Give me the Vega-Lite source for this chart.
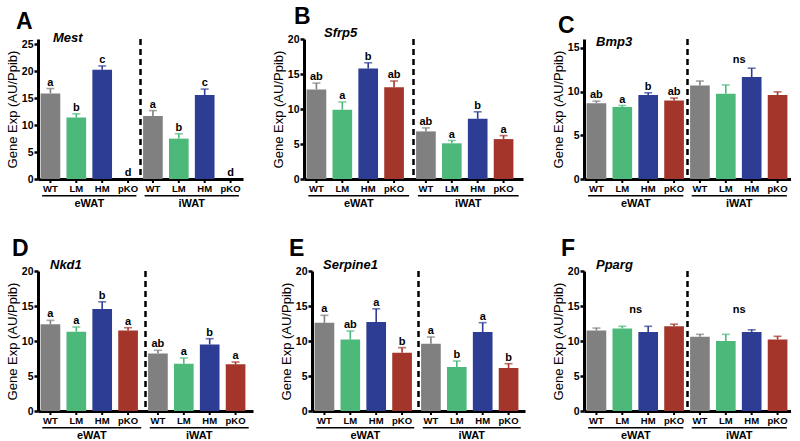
{
  "$schema": "https://vega.github.io/schema/vega-lite/v6.json",
  "padding": {"left": 6, "top": 6, "right": 0, "bottom": 0},
  "background": "white",
  "spacing": 30,
  "config": {
    "view": {"stroke": null},
    "font": "Liberation Sans",
    "axis": {"domainColor": "black", "tickColor": "black", "labelColor": "black", "titleColor": "black", "labelFont": "Liberation Sans", "titleFont": "Liberation Sans", "grid": false},
    "axisY": {"domainWidth": 3, "tickWidth": 2.5, "tickSize": 4, "labelFontSize": 10.5, "labelFontWeight": "bold", "labelPadding": 1, "labelOverlap": false, "titleFontSize": 13, "titleFontWeight": "normal", "titlePadding": 2},
    "axisX": {"domainWidth": 3, "ticks": false, "labelFontSize": 11, "labelFontWeight": "bold", "labelPadding": 18, "labelAngle": 0},
    "title": {"anchor": "start", "frame": "group", "fontSize": 23, "fontWeight": "bold", "font": "Liberation Sans", "color": "black", "offset": -2, "baseline": "alphabetic"},
    "text": {"font": "Liberation Sans", "color": "black"}
  },
  "datasets": {
    "A": [
      {"tissue": "eWAT", "geno": "WT", "mean": 15.9, "hi": 16.8, "label": "a"},
      {"tissue": "eWAT", "geno": "LM", "mean": 11.4, "hi": 12.1, "label": "b"},
      {"tissue": "eWAT", "geno": "HM", "mean": 20.3, "hi": 21.0, "label": "c"},
      {"tissue": "eWAT", "geno": "pKO", "mean": 0, "hi": 0, "label": "d"},
      {"tissue": "iWAT", "geno": "WT", "mean": 11.7, "hi": 12.7, "label": "a"},
      {"tissue": "iWAT", "geno": "LM", "mean": 7.5, "hi": 8.4, "label": "b"},
      {"tissue": "iWAT", "geno": "HM", "mean": 15.6, "hi": 16.7, "label": "c"},
      {"tissue": "iWAT", "geno": "pKO", "mean": 0, "hi": 0, "label": "d"}
    ],
    "B": [
      {"tissue": "eWAT", "geno": "WT", "mean": 12.8, "hi": 13.7, "label": "ab"},
      {"tissue": "eWAT", "geno": "LM", "mean": 9.9, "hi": 11.0, "label": "a"},
      {"tissue": "eWAT", "geno": "HM", "mean": 15.8, "hi": 16.6, "label": "b"},
      {"tissue": "eWAT", "geno": "pKO", "mean": 13.1, "hi": 14.0, "label": "ab"},
      {"tissue": "iWAT", "geno": "WT", "mean": 6.8, "hi": 7.3, "label": "ab"},
      {"tissue": "iWAT", "geno": "LM", "mean": 5.1, "hi": 5.5, "label": "a"},
      {"tissue": "iWAT", "geno": "HM", "mean": 8.6, "hi": 9.6, "label": "b"},
      {"tissue": "iWAT", "geno": "pKO", "mean": 5.7, "hi": 6.2, "label": "a"}
    ],
    "C": [
      {"tissue": "eWAT", "geno": "WT", "mean": 8.67, "hi": 8.9, "label": "ab"},
      {"tissue": "eWAT", "geno": "LM", "mean": 8.24, "hi": 8.4, "label": "a"},
      {"tissue": "eWAT", "geno": "HM", "mean": 9.6, "hi": 9.85, "label": "b"},
      {"tissue": "eWAT", "geno": "pKO", "mean": 8.96, "hi": 9.25, "label": "ab"},
      {"tissue": "iWAT", "geno": "WT", "mean": 10.7, "hi": 11.2, "label": ""},
      {"tissue": "iWAT", "geno": "LM", "mean": 9.75, "hi": 10.75, "label": ""},
      {"tissue": "iWAT", "geno": "HM", "mean": 11.65, "hi": 12.66, "label": ""},
      {"tissue": "iWAT", "geno": "pKO", "mean": 9.6, "hi": 9.96, "label": ""}
    ],
    "D": [
      {"tissue": "eWAT", "geno": "WT", "mean": 12.4, "hi": 12.95, "label": "a"},
      {"tissue": "eWAT", "geno": "LM", "mean": 11.33, "hi": 12.0, "label": "a"},
      {"tissue": "eWAT", "geno": "HM", "mean": 14.57, "hi": 15.6, "label": "b"},
      {"tissue": "eWAT", "geno": "pKO", "mean": 11.5, "hi": 11.9, "label": "a"},
      {"tissue": "iWAT", "geno": "WT", "mean": 8.2, "hi": 8.67, "label": "ab"},
      {"tissue": "iWAT", "geno": "LM", "mean": 6.76, "hi": 7.57, "label": "a"},
      {"tissue": "iWAT", "geno": "HM", "mean": 9.5, "hi": 10.33, "label": "b"},
      {"tissue": "iWAT", "geno": "pKO", "mean": 6.67, "hi": 7.0, "label": "a"}
    ],
    "E": [
      {"tissue": "eWAT", "geno": "WT", "mean": 12.6, "hi": 13.67, "label": "a"},
      {"tissue": "eWAT", "geno": "LM", "mean": 10.2, "hi": 11.43, "label": "ab"},
      {"tissue": "eWAT", "geno": "HM", "mean": 12.7, "hi": 14.6, "label": "a"},
      {"tissue": "eWAT", "geno": "pKO", "mean": 8.33, "hi": 9.05, "label": "b"},
      {"tissue": "iWAT", "geno": "WT", "mean": 9.62, "hi": 10.57, "label": "a"},
      {"tissue": "iWAT", "geno": "LM", "mean": 6.29, "hi": 7.14, "label": "b"},
      {"tissue": "iWAT", "geno": "HM", "mean": 11.29, "hi": 12.62, "label": "a"},
      {"tissue": "iWAT", "geno": "pKO", "mean": 6.14, "hi": 6.76, "label": "b"}
    ],
    "F": [
      {"tissue": "eWAT", "geno": "WT", "mean": 11.5, "hi": 11.85, "label": ""},
      {"tissue": "eWAT", "geno": "LM", "mean": 11.8, "hi": 12.1, "label": ""},
      {"tissue": "eWAT", "geno": "HM", "mean": 11.3, "hi": 12.1, "label": ""},
      {"tissue": "eWAT", "geno": "pKO", "mean": 12.1, "hi": 12.4, "label": ""},
      {"tissue": "iWAT", "geno": "WT", "mean": 10.6, "hi": 10.95, "label": ""},
      {"tissue": "iWAT", "geno": "LM", "mean": 10.0, "hi": 10.95, "label": ""},
      {"tissue": "iWAT", "geno": "HM", "mean": 11.3, "hi": 11.6, "label": ""},
      {"tissue": "iWAT", "geno": "pKO", "mean": 10.2, "hi": 10.67, "label": ""}
    ]
  },
  "vconcat": [
    {"spacing": 29, "hconcat": [
      {
        "width": 205, "height": 140,
        "title": {"text": "A", "dx": -22},
        "data": {"name": "A"},
        "layer": [
          {"mark": {"type": "bar"}, "encoding": {
            "x": {"field": "tissue", "type": "nominal", "scale": {"paddingInner": 0, "paddingOuter": 0}, "axis": {"title": null}},
            "xOffset": {"field": "geno", "type": "nominal", "scale": {"domain": ["WT", "LM", "HM", "pKO"], "paddingInner": 0.24, "paddingOuter": 0.1}},
            "y": {"field": "mean", "type": "quantitative", "scale": {"domain": [0, 25]}, "axis": {"title": "Gene Exp (AU/Ppib)", "values": [0, 5, 10, 15, 20, 25]}},
            "color": {"field": "geno", "type": "nominal", "scale": {"domain": ["WT", "LM", "HM", "pKO"], "range": ["#808080", "#4cb97b", "#2e3d94", "#a3352a"]}, "legend": null}}},
          {"transform": [{"filter": "datum.mean > 0"}], "mark": {"type": "rule", "strokeWidth": 1.6}, "encoding": {
            "x": {"field": "tissue", "type": "nominal", "axis": {"title": null}}, "xOffset": {"field": "geno", "type": "nominal"},
            "y": {"field": "mean", "type": "quantitative", "axis": {"title": "Gene Exp (AU/Ppib)", "values": [0, 5, 10, 15, 20, 25]}}, "y2": {"field": "hi"}, "color": {"field": "geno", "type": "nominal", "legend": null}}},
          {"transform": [{"filter": "datum.mean > 0"}], "mark": {"type": "tick", "size": 8, "thickness": 1.6}, "encoding": {
            "x": {"field": "tissue", "type": "nominal", "axis": {"title": null}}, "xOffset": {"field": "geno", "type": "nominal"},
            "y": {"field": "hi", "type": "quantitative", "axis": {"title": "Gene Exp (AU/Ppib)", "values": [0, 5, 10, 15, 20, 25]}}, "color": {"field": "geno", "type": "nominal", "legend": null}}},
          {"mark": {"type": "text", "baseline": "alphabetic", "dy": -3, "fontWeight": "bold", "fontSize": 11}, "encoding": {
            "x": {"field": "tissue", "type": "nominal", "axis": {"title": null}}, "xOffset": {"field": "geno", "type": "nominal"},
            "y": {"field": "hi", "type": "quantitative", "axis": {"title": "Gene Exp (AU/Ppib)", "values": [0, 5, 10, 15, 20, 25]}}, "text": {"field": "label"}}},
          {"mark": {"type": "text", "baseline": "middle", "dy": 10, "fontWeight": "bold", "fontSize": 9.5}, "encoding": {
            "x": {"field": "tissue", "type": "nominal", "axis": {"title": null}}, "xOffset": {"field": "geno", "type": "nominal"},
            "y": {"datum": 0, "axis": {"title": "Gene Exp (AU/Ppib)", "values": [0, 5, 10, 15, 20, 25]}}, "text": {"field": "geno"}}},
          {"mark": {"type": "rule", "y2Offset": 4, "strokeWidth": 2, "color": "black"}, "encoding": {
            "x": {"field": "tissue", "type": "nominal", "axis": {"title": null}}, "xOffset": {"field": "geno", "type": "nominal"},
            "y": {"datum": 0, "axis": {"title": "Gene Exp (AU/Ppib)", "values": [0, 5, 10, 15, 20, 25]}}, "y2": {"datum": 0}}},
          {"transform": [{"filter": "datum.geno == 'WT'"}], "mark": {"type": "bar", "yOffset": 16, "y2Offset": 17.4, "width": {"band": 0.92}, "color": "black"}, "encoding": {
            "x": {"field": "tissue", "type": "nominal", "axis": {"title": null}}, "y": {"datum": 0, "axis": {"title": "Gene Exp (AU/Ppib)", "values": [0, 5, 10, 15, 20, 25]}}, "y2": {"datum": 0}}},
          {"transform": [{"filter": "datum.geno == 'WT' && datum.tissue == 'iWAT'"}], "mark": {"type": "rule", "strokeDash": [6, 4], "strokeWidth": 2.5, "color": "black"}, "encoding": {
            "x": {"field": "tissue", "type": "nominal", "bandPosition": 0, "axis": {"title": null}}}},
          {"transform": [{"filter": "datum.geno == 'WT' && datum.tissue == 'eWAT'"}], "mark": {"type": "text", "align": "left", "baseline": "alphabetic", "dx": 15, "dy": -2, "fontStyle": "italic", "fontWeight": "bold", "fontSize": 13}, "encoding": {
            "x": {"field": "tissue", "type": "nominal", "bandPosition": 0, "axis": {"title": null}}, "y": {"datum": 25, "axis": {"title": "Gene Exp (AU/Ppib)", "values": [0, 5, 10, 15, 20, 25]}}, "text": {"value": "Mest"}}}
        ]
      },
      {
        "width": 219, "height": 140,
        "title": {"text": "B", "dx": -10},
        "data": {"name": "B"},
        "layer": [
          {"mark": {"type": "bar"}, "encoding": {
            "x": {"field": "tissue", "type": "nominal", "scale": {"paddingInner": 0, "paddingOuter": 0}, "axis": {"title": null}},
            "xOffset": {"field": "geno", "type": "nominal", "scale": {"domain": ["WT", "LM", "HM", "pKO"], "paddingInner": 0.24, "paddingOuter": 0.1}},
            "y": {"field": "mean", "type": "quantitative", "scale": {"domain": [0, 20]}, "axis": {"title": "Gene Exp (AU/Ppib)", "values": [0, 5, 10, 15, 20]}},
            "color": {"field": "geno", "type": "nominal", "scale": {"domain": ["WT", "LM", "HM", "pKO"], "range": ["#808080", "#4cb97b", "#2e3d94", "#a3352a"]}, "legend": null}}},
          {"transform": [{"filter": "datum.mean > 0"}], "mark": {"type": "rule", "strokeWidth": 1.6}, "encoding": {
            "x": {"field": "tissue", "type": "nominal", "axis": {"title": null}}, "xOffset": {"field": "geno", "type": "nominal"},
            "y": {"field": "mean", "type": "quantitative", "axis": {"title": "Gene Exp (AU/Ppib)", "values": [0, 5, 10, 15, 20]}}, "y2": {"field": "hi"}, "color": {"field": "geno", "type": "nominal", "legend": null}}},
          {"transform": [{"filter": "datum.mean > 0"}], "mark": {"type": "tick", "size": 8, "thickness": 1.6}, "encoding": {
            "x": {"field": "tissue", "type": "nominal", "axis": {"title": null}}, "xOffset": {"field": "geno", "type": "nominal"},
            "y": {"field": "hi", "type": "quantitative", "axis": {"title": "Gene Exp (AU/Ppib)", "values": [0, 5, 10, 15, 20]}}, "color": {"field": "geno", "type": "nominal", "legend": null}}},
          {"mark": {"type": "text", "baseline": "alphabetic", "dy": -3, "fontWeight": "bold", "fontSize": 11}, "encoding": {
            "x": {"field": "tissue", "type": "nominal", "axis": {"title": null}}, "xOffset": {"field": "geno", "type": "nominal"},
            "y": {"field": "hi", "type": "quantitative", "axis": {"title": "Gene Exp (AU/Ppib)", "values": [0, 5, 10, 15, 20]}}, "text": {"field": "label"}}},
          {"mark": {"type": "text", "baseline": "middle", "dy": 10, "fontWeight": "bold", "fontSize": 9.5}, "encoding": {
            "x": {"field": "tissue", "type": "nominal", "axis": {"title": null}}, "xOffset": {"field": "geno", "type": "nominal"},
            "y": {"datum": 0, "axis": {"title": "Gene Exp (AU/Ppib)", "values": [0, 5, 10, 15, 20]}}, "text": {"field": "geno"}}},
          {"mark": {"type": "rule", "y2Offset": 4, "strokeWidth": 2, "color": "black"}, "encoding": {
            "x": {"field": "tissue", "type": "nominal", "axis": {"title": null}}, "xOffset": {"field": "geno", "type": "nominal"},
            "y": {"datum": 0, "axis": {"title": "Gene Exp (AU/Ppib)", "values": [0, 5, 10, 15, 20]}}, "y2": {"datum": 0}}},
          {"transform": [{"filter": "datum.geno == 'WT'"}], "mark": {"type": "bar", "yOffset": 16, "y2Offset": 17.4, "width": {"band": 0.92}, "color": "black"}, "encoding": {
            "x": {"field": "tissue", "type": "nominal", "axis": {"title": null}}, "y": {"datum": 0, "axis": {"title": "Gene Exp (AU/Ppib)", "values": [0, 5, 10, 15, 20]}}, "y2": {"datum": 0}}},
          {"transform": [{"filter": "datum.geno == 'WT' && datum.tissue == 'iWAT'"}], "mark": {"type": "rule", "strokeDash": [6, 4], "strokeWidth": 2.5, "color": "black"}, "encoding": {
            "x": {"field": "tissue", "type": "nominal", "bandPosition": 0, "axis": {"title": null}}}},
          {"transform": [{"filter": "datum.geno == 'WT' && datum.tissue == 'eWAT'"}], "mark": {"type": "text", "align": "left", "baseline": "alphabetic", "dx": 20, "dy": -2, "fontStyle": "italic", "fontWeight": "bold", "fontSize": 13}, "encoding": {
            "x": {"field": "tissue", "type": "nominal", "bandPosition": 0, "axis": {"title": null}}, "y": {"datum": 20, "axis": {"title": "Gene Exp (AU/Ppib)", "values": [0, 5, 10, 15, 20]}}, "text": {"value": "Sfrp5"}}}
        ]
      },
      {
        "width": 207, "height": 140,
        "title": {"text": "C", "dx": -26},
        "data": {"name": "C"},
        "layer": [
          {"mark": {"type": "bar"}, "encoding": {
            "x": {"field": "tissue", "type": "nominal", "scale": {"paddingInner": 0, "paddingOuter": 0}, "axis": {"title": null}},
            "xOffset": {"field": "geno", "type": "nominal", "scale": {"domain": ["WT", "LM", "HM", "pKO"], "paddingInner": 0.24, "paddingOuter": 0.1}},
            "y": {"field": "mean", "type": "quantitative", "scale": {"domain": [0, 15]}, "axis": {"title": "Gene Exp (AU/Ppib)", "values": [0, 5, 10, 15]}},
            "color": {"field": "geno", "type": "nominal", "scale": {"domain": ["WT", "LM", "HM", "pKO"], "range": ["#808080", "#4cb97b", "#2e3d94", "#a3352a"]}, "legend": null}}},
          {"transform": [{"filter": "datum.mean > 0"}], "mark": {"type": "rule", "strokeWidth": 1.6}, "encoding": {
            "x": {"field": "tissue", "type": "nominal", "axis": {"title": null}}, "xOffset": {"field": "geno", "type": "nominal"},
            "y": {"field": "mean", "type": "quantitative", "axis": {"title": "Gene Exp (AU/Ppib)", "values": [0, 5, 10, 15]}}, "y2": {"field": "hi"}, "color": {"field": "geno", "type": "nominal", "legend": null}}},
          {"transform": [{"filter": "datum.mean > 0"}], "mark": {"type": "tick", "size": 8, "thickness": 1.6}, "encoding": {
            "x": {"field": "tissue", "type": "nominal", "axis": {"title": null}}, "xOffset": {"field": "geno", "type": "nominal"},
            "y": {"field": "hi", "type": "quantitative", "axis": {"title": "Gene Exp (AU/Ppib)", "values": [0, 5, 10, 15]}}, "color": {"field": "geno", "type": "nominal", "legend": null}}},
          {"mark": {"type": "text", "baseline": "alphabetic", "dy": -3, "fontWeight": "bold", "fontSize": 11}, "encoding": {
            "x": {"field": "tissue", "type": "nominal", "axis": {"title": null}}, "xOffset": {"field": "geno", "type": "nominal"},
            "y": {"field": "hi", "type": "quantitative", "axis": {"title": "Gene Exp (AU/Ppib)", "values": [0, 5, 10, 15]}}, "text": {"field": "label"}}},
          {"mark": {"type": "text", "baseline": "middle", "dy": 10, "fontWeight": "bold", "fontSize": 9.5}, "encoding": {
            "x": {"field": "tissue", "type": "nominal", "axis": {"title": null}}, "xOffset": {"field": "geno", "type": "nominal"},
            "y": {"datum": 0, "axis": {"title": "Gene Exp (AU/Ppib)", "values": [0, 5, 10, 15]}}, "text": {"field": "geno"}}},
          {"mark": {"type": "rule", "y2Offset": 4, "strokeWidth": 2, "color": "black"}, "encoding": {
            "x": {"field": "tissue", "type": "nominal", "axis": {"title": null}}, "xOffset": {"field": "geno", "type": "nominal"},
            "y": {"datum": 0, "axis": {"title": "Gene Exp (AU/Ppib)", "values": [0, 5, 10, 15]}}, "y2": {"datum": 0}}},
          {"transform": [{"filter": "datum.geno == 'WT'"}], "mark": {"type": "bar", "yOffset": 16, "y2Offset": 17.4, "width": {"band": 0.92}, "color": "black"}, "encoding": {
            "x": {"field": "tissue", "type": "nominal", "axis": {"title": null}}, "y": {"datum": 0, "axis": {"title": "Gene Exp (AU/Ppib)", "values": [0, 5, 10, 15]}}, "y2": {"datum": 0}}},
          {"transform": [{"filter": "datum.geno == 'WT' && datum.tissue == 'iWAT'"}], "mark": {"type": "rule", "strokeDash": [6, 4], "strokeWidth": 2.5, "color": "black"}, "encoding": {
            "x": {"field": "tissue", "type": "nominal", "bandPosition": 0, "axis": {"title": null}}}},
          {"transform": [{"filter": "datum.geno == 'WT' && datum.tissue == 'eWAT'"}], "mark": {"type": "text", "align": "left", "baseline": "alphabetic", "dx": 12, "dy": -2, "fontStyle": "italic", "fontWeight": "bold", "fontSize": 13}, "encoding": {
            "x": {"field": "tissue", "type": "nominal", "bandPosition": 0, "axis": {"title": null}}, "y": {"datum": 15, "axis": {"title": "Gene Exp (AU/Ppib)", "values": [0, 5, 10, 15]}}, "text": {"value": "Bmp3"}}},
          {"data": {"values": [{"tissue": "iWAT", "note": "ns"}]}, "mark": {"type": "text", "baseline": "middle", "fontWeight": "bold", "fontSize": 11}, "encoding": {
            "x": {"field": "tissue", "type": "nominal", "axis": {"title": null}}, "y": {"datum": 13.6, "axis": {"title": "Gene Exp (AU/Ppib)", "values": [0, 5, 10, 15]}}, "text": {"field": "note"}}}
        ]
      }
    ]},
    {"spacing": 27, "hconcat": [
      {
        "width": 215, "height": 140,
        "title": {"text": "D", "dx": -26},
        "data": {"name": "D"},
        "layer": [
          {"mark": {"type": "bar"}, "encoding": {
            "x": {"field": "tissue", "type": "nominal", "scale": {"paddingInner": 0, "paddingOuter": 0}, "axis": {"title": null}},
            "xOffset": {"field": "geno", "type": "nominal", "scale": {"domain": ["WT", "LM", "HM", "pKO"], "paddingInner": 0.24, "paddingOuter": 0.1}},
            "y": {"field": "mean", "type": "quantitative", "scale": {"domain": [0, 20]}, "axis": {"title": "Gene Exp (AU/Ppib)", "values": [0, 5, 10, 15, 20]}},
            "color": {"field": "geno", "type": "nominal", "scale": {"domain": ["WT", "LM", "HM", "pKO"], "range": ["#808080", "#4cb97b", "#2e3d94", "#a3352a"]}, "legend": null}}},
          {"transform": [{"filter": "datum.mean > 0"}], "mark": {"type": "rule", "strokeWidth": 1.6}, "encoding": {
            "x": {"field": "tissue", "type": "nominal", "axis": {"title": null}}, "xOffset": {"field": "geno", "type": "nominal"},
            "y": {"field": "mean", "type": "quantitative", "axis": {"title": "Gene Exp (AU/Ppib)", "values": [0, 5, 10, 15, 20]}}, "y2": {"field": "hi"}, "color": {"field": "geno", "type": "nominal", "legend": null}}},
          {"transform": [{"filter": "datum.mean > 0"}], "mark": {"type": "tick", "size": 8, "thickness": 1.6}, "encoding": {
            "x": {"field": "tissue", "type": "nominal", "axis": {"title": null}}, "xOffset": {"field": "geno", "type": "nominal"},
            "y": {"field": "hi", "type": "quantitative", "axis": {"title": "Gene Exp (AU/Ppib)", "values": [0, 5, 10, 15, 20]}}, "color": {"field": "geno", "type": "nominal", "legend": null}}},
          {"mark": {"type": "text", "baseline": "alphabetic", "dy": -3, "fontWeight": "bold", "fontSize": 11}, "encoding": {
            "x": {"field": "tissue", "type": "nominal", "axis": {"title": null}}, "xOffset": {"field": "geno", "type": "nominal"},
            "y": {"field": "hi", "type": "quantitative", "axis": {"title": "Gene Exp (AU/Ppib)", "values": [0, 5, 10, 15, 20]}}, "text": {"field": "label"}}},
          {"mark": {"type": "text", "baseline": "middle", "dy": 10, "fontWeight": "bold", "fontSize": 9.5}, "encoding": {
            "x": {"field": "tissue", "type": "nominal", "axis": {"title": null}}, "xOffset": {"field": "geno", "type": "nominal"},
            "y": {"datum": 0, "axis": {"title": "Gene Exp (AU/Ppib)", "values": [0, 5, 10, 15, 20]}}, "text": {"field": "geno"}}},
          {"mark": {"type": "rule", "y2Offset": 4, "strokeWidth": 2, "color": "black"}, "encoding": {
            "x": {"field": "tissue", "type": "nominal", "axis": {"title": null}}, "xOffset": {"field": "geno", "type": "nominal"},
            "y": {"datum": 0, "axis": {"title": "Gene Exp (AU/Ppib)", "values": [0, 5, 10, 15, 20]}}, "y2": {"datum": 0}}},
          {"transform": [{"filter": "datum.geno == 'WT'"}], "mark": {"type": "bar", "yOffset": 16, "y2Offset": 17.4, "width": {"band": 0.92}, "color": "black"}, "encoding": {
            "x": {"field": "tissue", "type": "nominal", "axis": {"title": null}}, "y": {"datum": 0, "axis": {"title": "Gene Exp (AU/Ppib)", "values": [0, 5, 10, 15, 20]}}, "y2": {"datum": 0}}},
          {"transform": [{"filter": "datum.geno == 'WT' && datum.tissue == 'iWAT'"}], "mark": {"type": "rule", "strokeDash": [6, 4], "strokeWidth": 2.5, "color": "black"}, "encoding": {
            "x": {"field": "tissue", "type": "nominal", "bandPosition": 0, "axis": {"title": null}}}},
          {"transform": [{"filter": "datum.geno == 'WT' && datum.tissue == 'eWAT'"}], "mark": {"type": "text", "align": "left", "baseline": "alphabetic", "dx": 12, "dy": -2, "fontStyle": "italic", "fontWeight": "bold", "fontSize": 13}, "encoding": {
            "x": {"field": "tissue", "type": "nominal", "bandPosition": 0, "axis": {"title": null}}, "y": {"datum": 20, "axis": {"title": "Gene Exp (AU/Ppib)", "values": [0, 5, 10, 15, 20]}}, "text": {"value": "Nkd1"}}}
        ]
      },
      {
        "width": 213, "height": 140,
        "title": {"text": "E", "dx": -23},
        "data": {"name": "E"},
        "layer": [
          {"mark": {"type": "bar"}, "encoding": {
            "x": {"field": "tissue", "type": "nominal", "scale": {"paddingInner": 0, "paddingOuter": 0}, "axis": {"title": null}},
            "xOffset": {"field": "geno", "type": "nominal", "scale": {"domain": ["WT", "LM", "HM", "pKO"], "paddingInner": 0.24, "paddingOuter": 0.1}},
            "y": {"field": "mean", "type": "quantitative", "scale": {"domain": [0, 20]}, "axis": {"title": "Gene Exp (AU/Ppib)", "values": [0, 5, 10, 15, 20]}},
            "color": {"field": "geno", "type": "nominal", "scale": {"domain": ["WT", "LM", "HM", "pKO"], "range": ["#808080", "#4cb97b", "#2e3d94", "#a3352a"]}, "legend": null}}},
          {"transform": [{"filter": "datum.mean > 0"}], "mark": {"type": "rule", "strokeWidth": 1.6}, "encoding": {
            "x": {"field": "tissue", "type": "nominal", "axis": {"title": null}}, "xOffset": {"field": "geno", "type": "nominal"},
            "y": {"field": "mean", "type": "quantitative", "axis": {"title": "Gene Exp (AU/Ppib)", "values": [0, 5, 10, 15, 20]}}, "y2": {"field": "hi"}, "color": {"field": "geno", "type": "nominal", "legend": null}}},
          {"transform": [{"filter": "datum.mean > 0"}], "mark": {"type": "tick", "size": 8, "thickness": 1.6}, "encoding": {
            "x": {"field": "tissue", "type": "nominal", "axis": {"title": null}}, "xOffset": {"field": "geno", "type": "nominal"},
            "y": {"field": "hi", "type": "quantitative", "axis": {"title": "Gene Exp (AU/Ppib)", "values": [0, 5, 10, 15, 20]}}, "color": {"field": "geno", "type": "nominal", "legend": null}}},
          {"mark": {"type": "text", "baseline": "alphabetic", "dy": -3, "fontWeight": "bold", "fontSize": 11}, "encoding": {
            "x": {"field": "tissue", "type": "nominal", "axis": {"title": null}}, "xOffset": {"field": "geno", "type": "nominal"},
            "y": {"field": "hi", "type": "quantitative", "axis": {"title": "Gene Exp (AU/Ppib)", "values": [0, 5, 10, 15, 20]}}, "text": {"field": "label"}}},
          {"mark": {"type": "text", "baseline": "middle", "dy": 10, "fontWeight": "bold", "fontSize": 9.5}, "encoding": {
            "x": {"field": "tissue", "type": "nominal", "axis": {"title": null}}, "xOffset": {"field": "geno", "type": "nominal"},
            "y": {"datum": 0, "axis": {"title": "Gene Exp (AU/Ppib)", "values": [0, 5, 10, 15, 20]}}, "text": {"field": "geno"}}},
          {"mark": {"type": "rule", "y2Offset": 4, "strokeWidth": 2, "color": "black"}, "encoding": {
            "x": {"field": "tissue", "type": "nominal", "axis": {"title": null}}, "xOffset": {"field": "geno", "type": "nominal"},
            "y": {"datum": 0, "axis": {"title": "Gene Exp (AU/Ppib)", "values": [0, 5, 10, 15, 20]}}, "y2": {"datum": 0}}},
          {"transform": [{"filter": "datum.geno == 'WT'"}], "mark": {"type": "bar", "yOffset": 16, "y2Offset": 17.4, "width": {"band": 0.92}, "color": "black"}, "encoding": {
            "x": {"field": "tissue", "type": "nominal", "axis": {"title": null}}, "y": {"datum": 0, "axis": {"title": "Gene Exp (AU/Ppib)", "values": [0, 5, 10, 15, 20]}}, "y2": {"datum": 0}}},
          {"transform": [{"filter": "datum.geno == 'WT' && datum.tissue == 'iWAT'"}], "mark": {"type": "rule", "strokeDash": [6, 4], "strokeWidth": 2.5, "color": "black"}, "encoding": {
            "x": {"field": "tissue", "type": "nominal", "bandPosition": 0, "axis": {"title": null}}}},
          {"transform": [{"filter": "datum.geno == 'WT' && datum.tissue == 'eWAT'"}], "mark": {"type": "text", "align": "left", "baseline": "alphabetic", "dx": 11, "dy": -2, "fontStyle": "italic", "fontWeight": "bold", "fontSize": 13}, "encoding": {
            "x": {"field": "tissue", "type": "nominal", "bandPosition": 0, "axis": {"title": null}}, "y": {"datum": 20, "axis": {"title": "Gene Exp (AU/Ppib)", "values": [0, 5, 10, 15, 20]}}, "text": {"value": "Serpine1"}}}
        ]
      },
      {
        "width": 207, "height": 140,
        "title": {"text": "F", "dx": -23},
        "data": {"name": "F"},
        "layer": [
          {"mark": {"type": "bar"}, "encoding": {
            "x": {"field": "tissue", "type": "nominal", "scale": {"paddingInner": 0, "paddingOuter": 0}, "axis": {"title": null}},
            "xOffset": {"field": "geno", "type": "nominal", "scale": {"domain": ["WT", "LM", "HM", "pKO"], "paddingInner": 0.24, "paddingOuter": 0.1}},
            "y": {"field": "mean", "type": "quantitative", "scale": {"domain": [0, 20]}, "axis": {"title": "Gene Exp (AU/Ppib)", "values": [0, 5, 10, 15, 20]}},
            "color": {"field": "geno", "type": "nominal", "scale": {"domain": ["WT", "LM", "HM", "pKO"], "range": ["#808080", "#4cb97b", "#2e3d94", "#a3352a"]}, "legend": null}}},
          {"transform": [{"filter": "datum.mean > 0"}], "mark": {"type": "rule", "strokeWidth": 1.6}, "encoding": {
            "x": {"field": "tissue", "type": "nominal", "axis": {"title": null}}, "xOffset": {"field": "geno", "type": "nominal"},
            "y": {"field": "mean", "type": "quantitative", "axis": {"title": "Gene Exp (AU/Ppib)", "values": [0, 5, 10, 15, 20]}}, "y2": {"field": "hi"}, "color": {"field": "geno", "type": "nominal", "legend": null}}},
          {"transform": [{"filter": "datum.mean > 0"}], "mark": {"type": "tick", "size": 8, "thickness": 1.6}, "encoding": {
            "x": {"field": "tissue", "type": "nominal", "axis": {"title": null}}, "xOffset": {"field": "geno", "type": "nominal"},
            "y": {"field": "hi", "type": "quantitative", "axis": {"title": "Gene Exp (AU/Ppib)", "values": [0, 5, 10, 15, 20]}}, "color": {"field": "geno", "type": "nominal", "legend": null}}},
          {"mark": {"type": "text", "baseline": "middle", "dy": 10, "fontWeight": "bold", "fontSize": 9.5}, "encoding": {
            "x": {"field": "tissue", "type": "nominal", "axis": {"title": null}}, "xOffset": {"field": "geno", "type": "nominal"},
            "y": {"datum": 0, "axis": {"title": "Gene Exp (AU/Ppib)", "values": [0, 5, 10, 15, 20]}}, "text": {"field": "geno"}}},
          {"mark": {"type": "rule", "y2Offset": 4, "strokeWidth": 2, "color": "black"}, "encoding": {
            "x": {"field": "tissue", "type": "nominal", "axis": {"title": null}}, "xOffset": {"field": "geno", "type": "nominal"},
            "y": {"datum": 0, "axis": {"title": "Gene Exp (AU/Ppib)", "values": [0, 5, 10, 15, 20]}}, "y2": {"datum": 0}}},
          {"transform": [{"filter": "datum.geno == 'WT'"}], "mark": {"type": "bar", "yOffset": 16, "y2Offset": 17.4, "width": {"band": 0.92}, "color": "black"}, "encoding": {
            "x": {"field": "tissue", "type": "nominal", "axis": {"title": null}}, "y": {"datum": 0, "axis": {"title": "Gene Exp (AU/Ppib)", "values": [0, 5, 10, 15, 20]}}, "y2": {"datum": 0}}},
          {"transform": [{"filter": "datum.geno == 'WT' && datum.tissue == 'iWAT'"}], "mark": {"type": "rule", "strokeDash": [6, 4], "strokeWidth": 2.5, "color": "black"}, "encoding": {
            "x": {"field": "tissue", "type": "nominal", "bandPosition": 0, "axis": {"title": null}}}},
          {"transform": [{"filter": "datum.geno == 'WT' && datum.tissue == 'eWAT'"}], "mark": {"type": "text", "align": "left", "baseline": "alphabetic", "dx": 12, "dy": -2, "fontStyle": "italic", "fontWeight": "bold", "fontSize": 13}, "encoding": {
            "x": {"field": "tissue", "type": "nominal", "bandPosition": 0, "axis": {"title": null}}, "y": {"datum": 20, "axis": {"title": "Gene Exp (AU/Ppib)", "values": [0, 5, 10, 15, 20]}}, "text": {"value": "Pparg"}}},
          {"data": {"values": [{"tissue": "eWAT", "note": "ns"}, {"tissue": "iWAT", "note": "ns"}]}, "mark": {"type": "text", "baseline": "middle", "fontWeight": "bold", "fontSize": 11}, "encoding": {
            "x": {"field": "tissue", "type": "nominal", "axis": {"title": null}}, "y": {"datum": 14.4, "axis": {"title": "Gene Exp (AU/Ppib)", "values": [0, 5, 10, 15, 20]}}, "text": {"field": "note"}}}
        ]
      }
    ]}
  ]
}
